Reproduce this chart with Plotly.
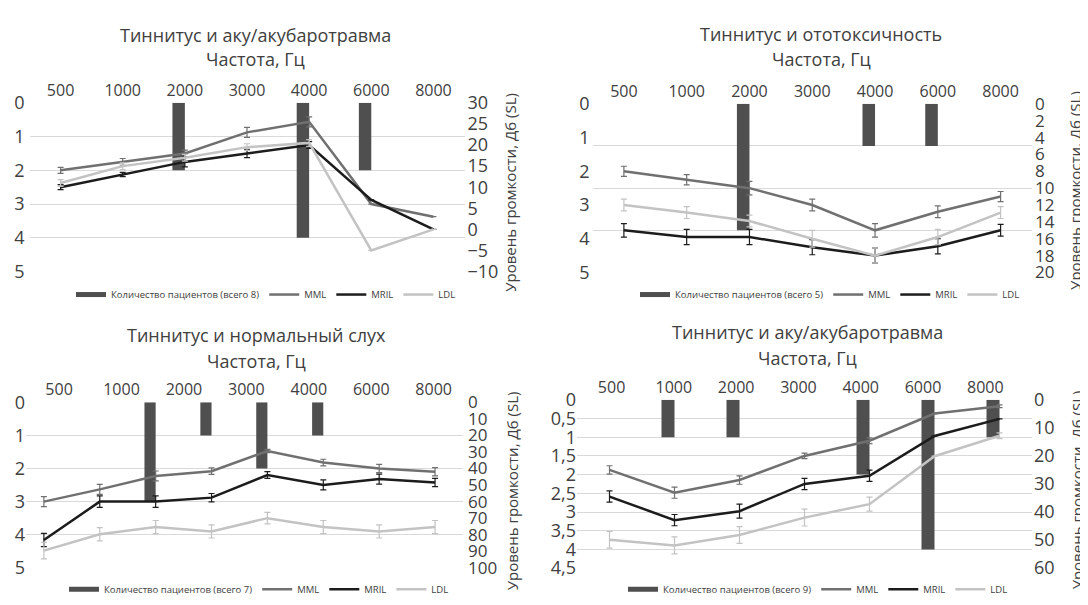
import plotly.graph_objects as go

# Screen size and the 8px default page margin around the figure div
SCREEN_W, SCREEN_H = 1088, 605
PAGE_MARGIN = 8
W, H = SCREEN_W - PAGE_MARGIN, SCREEN_H - PAGE_MARGIN

FREQ_LABELS = ["500", "1000", "2000", "3000", "4000", "6000", "8000"]
AXIS_TITLE = "Уровень громкости, Дб (SL)"
SUBTITLE = "Частота, Гц"
SERIES_NAMES = ["MML", "MRIL", "LDL"]

# ---- Panel 1: Тиннитус и аку/акубаротравма (8 patients)
P1_TITLE = "Тиннитус и аку/акубаротравма"
P1_BAR_NAME = "Количество пациентов (всего 8)"
P1_PATIENTS = [0, 0, 2, 0, 4, 2, 0]
P1_MML = [14, 16, 18, 23, 25.5, 6, 3]
P1_MML_ERR = [0.7, 0.8, 0.8, 1.2, 1.2, 0, 0]
P1_MRIL = [10, 13, 16, 18, 20, 7, 0]
P1_MRIL_ERR = [0.6, 0.5, 1.2, 1.0, 0.8, 0, 0]
P1_LDL = [11, 15, 17, 19.5, 20.5, -5, 0]
P1_LDL_ERR = [0.8, 0.8, 0.8, 0.8, 0.8, 0, 0]

# ---- Panel 2: Тиннитус и ототоксичность (5 patients)
P2_TITLE = "Тиннитус и ототоксичность"
P2_BAR_NAME = "Количество пациентов (всего 5)"
P2_PATIENTS = [0, 0, 3, 0, 1, 1, 0]
P2_MML = [8, 9, 10, 12, 15, 12.8, 11]
P2_MML_ERR = [0.6, 0.6, 0.8, 0.7, 0.8, 0.7, 0.6]
P2_MRIL = [15, 15.8, 15.8, 17, 18, 16.9, 15]
P2_MRIL_ERR = [0.8, 0.9, 0.9, 0.9, 0.9, 0.9, 0.7]
P2_LDL = [12, 12.9, 13.9, 16, 18, 15.8, 12.9]
P2_LDL_ERR = [0.7, 0.7, 0.7, 1.0, 0.9, 0.9, 0.7]

# ---- Panel 3: Тиннитус и нормальный слух (7 patients, 8 measured points)
P3_TITLE = "Тиннитус и нормальный слух"
P3_BAR_NAME = "Количество пациентов (всего 7)"
P3_PATIENTS = [0, 0, 3, 1, 2, 1, 0, 0]
P3_MML = [60, 52.6, 44.5, 41.6, 29.4, 36.4, 40, 42]
P3_MML_ERR = [3, 3, 3, 2, 1, 2, 2.5, 2.5]
P3_MRIL = [83.2, 60, 60, 57.6, 43.9, 49.9, 46.4, 48.4]
P3_MRIL_ERR = [4, 3.5, 3.5, 2.5, 2, 3, 3, 2.5]
P3_LDL = [89.6, 79.7, 75.4, 78, 70, 75.4, 78, 75.4]
P3_LDL_ERR = [5, 4, 4, 4, 3.5, 4, 4, 4]

# ---- Panel 4: Тиннитус и аку/акубаротравма (9 patients)
P4_TITLE = "Тиннитус и аку/акубаротравма"
P4_BAR_NAME = "Количество пациентов (всего 9)"
P4_PATIENTS = [0, 1, 1, 0, 2, 4, 1]
P4_MML = [25, 33.1, 28.6, 20.0, 14.6, 4.9, 2.3]
P4_MML_ERR = [1.5, 2, 1.5, 1, 1, 0, 0.5]
P4_MRIL = [34.5, 42.9, 39.7, 30, 27.1, 12.9, 6.8]
P4_MRIL_ERR = [2, 2, 2.5, 2, 2, 0, 0]
P4_LDL = [49.9, 51.9, 48.2, 42, 37.2, 20.1, 12.8]
P4_LDL_ERR = [3, 3, 3, 3, 2.5, 0, 1]

COLORS = {"bar": "#4f4f4f", "MML": "#707070", "MRIL": "#1c1c1c", "LDL": "#c3c3c3"}
TEXT = "#404040"
GRID = "#d9d9d9"
FONT = "Open Sans"


def px_x(a):
    """screen pixel -> paper x"""
    return (a - PAGE_MARGIN) / W


def px_y(a):
    """screen pixel -> paper y"""
    return 1 - (a - PAGE_MARGIN) / H


def ax_key(ref):
    return ref[0] + "axis" + ref[1:]


fig = go.Figure()

panels = [
    dict(title=P1_TITLE, bar_name=P1_BAR_NAME, patients=P1_PATIENTS,
         series=[(P1_MML, P1_MML_ERR), (P1_MRIL, P1_MRIL_ERR), (P1_LDL, P1_LDL_ERR)],
         xd="x", xt="x2", yb="y", yr="y2", ylab=None, legend="legend",
         dom_x=(29.5, 464.5), dom_y=(93.3, 269), xrange=[-0.5, 6.5], trange=[-0.5, 6.5],
         lrange=[5, 0], ldtick=1, brange=[5, 0], rrange=[-10, 30], rdtick=5, rsize=18,
         lstand=4, rstand=2, title_xy=(255.5, 22.7), sub_y=48,
         rt_xy=(510, 187), leg_xy=(266, 293)),
    dict(title=P2_TITLE, bar_name=P2_BAR_NAME, patients=P2_PATIENTS,
         series=[(P2_MML, P2_MML_ERR), (P2_MRIL, P2_MRIL_ERR), (P2_LDL, P2_LDL_ERR)],
         xd="x3", xt="x4", yb="y3", yr="y4", ylab="y5", legend="legend2",
         dom_x=(592.5, 1032), dom_y=(94.3, 270), xrange=[-0.5, 6.5], trange=[-0.5, 6.5],
         lrange=[5, 0], ldtick=1, brange=[4, 0], rrange=[20, 0], rdtick=2, rsize=17,
         lstand=2, rstand=2, title_xy=(821, 21.7), sub_y=48,
         rt_xy=(1075, 185), leg_xy=(830, 293)),
    dict(title=P3_TITLE, bar_name=P3_BAR_NAME, patients=P3_PATIENTS,
         series=[(P3_MML, P3_MML_ERR), (P3_MRIL, P3_MRIL_ERR), (P3_LDL, P3_LDL_ERR)],
         xd="x5", xt="x6", yb="y6", yr="y7", ylab=None, legend="legend3",
         dom_x=(26, 463), dom_y=(405.3, 577.7), xrange=[-0.32, 7.5], trange=[-0.53, 6.47],
         lrange=[5, 0], ldtick=1, brange=[5, 0], rrange=[100, 0], rdtick=10, rsize=17,
         lstand=0, rstand=4, title_xy=(256.5, 335.3), sub_y=362,
         rt_xy=(512, 498), leg_xy=(259, 600)),
    dict(title=P4_TITLE, bar_name=P4_BAR_NAME, patients=P4_PATIENTS,
         series=[(P4_MML, P4_MML_ERR), (P4_MRIL, P4_MRIL_ERR), (P4_LDL, P4_LDL_ERR)],
         xd="x7", xt="x8", yb="y8", yr="y9", ylab=None, legend="legend4",
         dom_x=(577, 1032), dom_y=(402.7, 578), xrange=[-0.5, 6.5], trange=[-0.555, 6.75],
         lrange=[4.5, 0], ldtick=0.5, brange=[4.5, 0], rrange=[60, 0], rdtick=10, rsize=18,
         lstand=0, rstand=1, title_xy=(807.5, 332), sub_y=359,
         rt_xy=(1077, 497), leg_xy=(818, 600)),
]

annotations = []
layout_axes = {}

for p in panels:
    n = len(p["patients"])
    idx = list(range(n))
    dom_x = [px_x(p["dom_x"][0]), px_x(p["dom_x"][1])]
    dom_y = [px_y(p["dom_y"][1]), px_y(p["dom_y"][0])]

    # bars (patients count) on the base left axis
    fig.add_trace(go.Bar(
        x=idx, y=p["patients"], name=p["bar_name"], width=0.2, offset=-0.2,
        marker=dict(color=COLORS["bar"], line=dict(width=0)),
        xaxis=p["xd"], yaxis=p["yb"], showlegend=False, hoverinfo="skip"))
    # legend entry for the bars (flat swatch like the original)
    fig.add_trace(go.Scatter(
        x=[None], y=[None], mode="lines", name=p["bar_name"],
        line=dict(color=COLORS["bar"], width=5),
        xaxis=p["xd"], yaxis=p["yb"], legend=p["legend"], hoverinfo="skip"))

    # lines on the right axis
    for name, (vals, err) in zip(SERIES_NAMES, p["series"]):
        fig.add_trace(go.Scatter(
            x=idx, y=vals, name=name, mode="lines",
            line=dict(color=COLORS[name], width=2.5),
            error_y=dict(type="data", array=err, color=COLORS[name],
                         thickness=1.2, width=3),
            xaxis=p["xd"], yaxis=p["yr"], legend=p["legend"]))

    # invisible helpers so the label-only axes get drawn
    fig.add_trace(go.Scatter(x=[None], y=[None], xaxis=p["xt"], yaxis=p["yb"],
                             showlegend=False, hoverinfo="skip"))
    if p["ylab"]:
        fig.add_trace(go.Scatter(x=[None], y=[None], xaxis=p["xd"], yaxis=p["ylab"],
                                 showlegend=False, hoverinfo="skip"))

    tickfont = dict(family=FONT, size=18, color=TEXT)

    layout_axes[ax_key(p["xd"])] = dict(
        domain=dom_x, range=p["xrange"], anchor=p["yb"], visible=False,
        fixedrange=True)
    layout_axes[ax_key(p["xt"])] = dict(
        overlaying=p["xd"], side="top", anchor=p["yb"], range=p["trange"],
        tickmode="array", tickvals=list(range(len(FREQ_LABELS))), ticktext=FREQ_LABELS,
        showgrid=False, zeroline=False, showline=False, ticks="",
        ticklabelstandoff=3, tickfont=dict(family=FONT, size=16, color=TEXT))

    base_y = dict(
        domain=dom_y, range=p["brange"], anchor=p["xd"], side="left",
        showgrid=True, gridcolor=GRID, gridwidth=1, zeroline=False, showline=False,
        ticks="", tickfont=tickfont)
    if p["ylab"]:
        base_y.update(dtick=1, tick0=0, showticklabels=False)
        layout_axes[ax_key(p["ylab"])] = dict(
            overlaying=p["yb"], side="left", anchor=p["xd"], range=p["lrange"],
            dtick=p["ldtick"], tick0=0, showgrid=False, zeroline=False,
            showline=False, ticks="", ticklabelstandoff=p["lstand"],
            tickfont=tickfont)
    else:
        base_y.update(dtick=p["ldtick"], tick0=0, ticklabelstandoff=p["lstand"])
    layout_axes[ax_key(p["yb"])] = base_y

    layout_axes[ax_key(p["yr"])] = dict(
        overlaying=p["yb"], side="right", anchor=p["xd"], range=p["rrange"],
        dtick=p["rdtick"], tick0=0, showgrid=False, zeroline=False, showline=False,
        ticks="", ticklabelstandoff=p["rstand"],
        tickfont=dict(family=FONT, size=p["rsize"], color=TEXT))

    # texts
    annotations.append(dict(
        text=p["title"], x=px_x(p["title_xy"][0]), y=px_y(p["title_xy"][1]),
        xref="paper", yref="paper", showarrow=False, xanchor="center",
        yanchor="middle", font=dict(family=FONT, size=18, color=TEXT)))
    annotations.append(dict(
        text=SUBTITLE, x=px_x(p["title_xy"][0]), y=px_y(p["sub_y"]),
        xref="paper", yref="paper", showarrow=False, xanchor="center",
        yanchor="middle", font=dict(family=FONT, size=18, color=TEXT)))
    annotations.append(dict(
        text=AXIS_TITLE, x=px_x(p["rt_xy"][0]), y=px_y(p["rt_xy"][1]),
        xref="paper", yref="paper", showarrow=False, xanchor="center",
        yanchor="middle", textangle=-90, borderpad=0,
        font=dict(family=FONT, size=15, color=TEXT)))

    layout_axes[p["legend"]] = dict(
        orientation="h", x=px_x(p["leg_xy"][0]), y=px_y(p["leg_xy"][1]),
        xanchor="center", yanchor="middle", bgcolor="rgba(0,0,0,0)",
        font=dict(family=FONT, size=9.5, color=TEXT), traceorder="normal",
        itemwidth=30, tracegroupgap=0)

fig.update_layout(
    width=W, height=H, margin=dict(l=0, r=0, t=0, b=0),
    paper_bgcolor="white", plot_bgcolor="rgba(0,0,0,0)",
    font=dict(family=FONT, color=TEXT), separators=", ",
    barmode="overlay", annotations=annotations, **layout_axes)

fig.write_html("out.html")
